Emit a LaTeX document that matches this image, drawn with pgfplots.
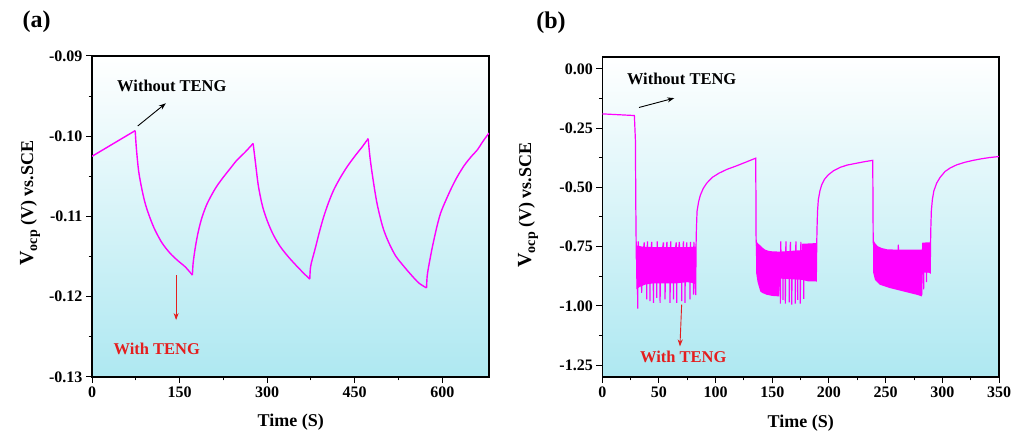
\documentclass[border=0pt]{standalone}
\usepackage{fontspec}
\setmainfont{Liberation Serif}
\usepackage{pgfplots}
\pgfplotsset{compat=1.18}
\usetikzlibrary{arrows.meta}
\definecolor{mag}{RGB}{255,0,255}
\definecolor{bgc}{RGB}{174,232,241}
\definecolor{bgm}{RGB}{226,247,250}
\definecolor{annred}{RGB}{228,30,30}
\pgfplotsset{myax/.style={
  scale only axis, anchor=south west, no marks,
  axis line style={line width=1.1pt},
  tick style={line width=1pt, black},
  tick align=outside, major tick length=6pt, minor tick length=3.5pt,
  minor x tick num=1, minor y tick num=1,
  xtick pos=bottom, ytick pos=left,
  ticklabel style={font=\fontsize{16}{16}\selectfont\bfseries},
  axis background/.style={shade, top color=white, middle color=bgm, bottom color=bgc},
}}
\tikzset{curve/.style={mag, line width=1.4pt, line join=round, smooth, tension=0.5}}
\newcommand{\ylab}{{\fontsize{20}{20}\selectfont V}\raisebox{-4pt}{\fontsize{14}{14}\selectfont ocp}\fontsize{18}{18}\selectfont\ (V) vs.SCE}
\begin{document}
\begin{tikzpicture}
\useasboundingbox (0pt,0pt) rectangle (1017pt,443pt);
% ---------------- panel (a)
\begin{axis}[myax, at={(92pt,66pt)}, width=397pt, height=321pt,
  xmin=0, xmax=680, ymin=-0.13, ymax=-0.09,
  xtick={0,150,300,450,600}, xticklabels={0,150,300,450,600},
  ytick={-0.13,-0.12,-0.11,-0.10,-0.09},
  yticklabels={-0.13,-0.12,-0.11,-0.10,-0.09}]
\addplot[mag, line width=1.4pt] coordinates {(0,-0.1025) (74,-0.0993)};
\addplot[curve] coordinates {(74,-0.0993) (76,-0.1015) (80,-0.1044) (86,-0.1068) (92,-0.1086) (100,-0.1103) (108,-0.1117) (120,-0.1133) (134,-0.1146) (147,-0.1155) (160,-0.1163) (172,-0.1173)};
\addplot[curve] coordinates {(172,-0.1173) (173,-0.1160) (175,-0.1148) (178,-0.1134) (182,-0.1119) (188,-0.1102) (196,-0.1086) (205,-0.1073) (214,-0.1062) (225,-0.1051) (237,-0.1040) (248,-0.1030) (262,-0.1020) (276,-0.1009)};
\addplot[curve] coordinates {(276,-0.1009) (280,-0.1033) (285,-0.1062) (292,-0.1087) (300,-0.1105) (310,-0.1122) (322,-0.1137) (336,-0.1150) (351,-0.1162) (363,-0.1171) (373,-0.1178)};
\addplot[curve] coordinates {(373,-0.1178) (374,-0.1165) (376,-0.1157) (379,-0.1149) (383,-0.1138) (390,-0.1118) (397,-0.1100) (405,-0.1083) (414,-0.1067) (425,-0.1052) (437,-0.1038) (450,-0.1025) (462,-0.1014) (473,-0.1003)};
\addplot[curve] coordinates {(473,-0.1003) (476,-0.1025) (480,-0.1047) (488,-0.1083) (498,-0.1113) (508,-0.1132) (520,-0.1149) (534,-0.1162) (547,-0.1173) (560,-0.1183) (573,-0.1189)};
\addplot[curve] coordinates {(573,-0.1189) (574,-0.1175) (576,-0.1165) (579,-0.1153) (583,-0.1138) (590,-0.1115) (597,-0.1096) (606,-0.1080) (616,-0.1064) (626,-0.1050) (638,-0.1036) (650,-0.1025) (660,-0.1017) (670,-0.1006) (680,-0.0996)};
\node[font=\fontsize{16.5}{16.5}\selectfont\bfseries] at (axis cs:136.8,-0.0937) {Without TENG};
\draw[-{Stealth[length=7pt,width=5pt]}, line width=0.9pt, black] (axis cs:78.4,-0.09872) -- (axis cs:126.5,-0.09589);
\node[font=\fontsize{16.5}{16.5}\selectfont\bfseries, text=annred] at (axis cs:111,-0.1265) {With TENG};
\draw[-{Stealth[length=7pt,width=5pt]}, line width=0.9pt, annred] (axis cs:144.1,-0.1173) -- (axis cs:144.1,-0.1229);
\end{axis}
% ---------------- panel (b)
\begin{axis}[myax, at={(602.3pt,66pt)}, width=396.7pt, height=320pt,
  xmin=0, xmax=350, ymin=-1.30, ymax=0.05,
  xtick={0,50,100,150,200,250,300,350}, xticklabels={0,50,100,150,200,250,300,350},
  ytick={-1.25,-1,-0.75,-0.5,-0.25,0},
  yticklabels={-1.25,-1.00,-0.75,-0.50,-0.25,0.00}]
% dense bands
\addplot[draw=none, fill=mag] coordinates {
(29.8,-0.76) (31,-0.745) (35,-0.75) (45,-0.752) (55,-0.752) (65,-0.752) (75,-0.752) (82.6,-0.75)
(82.6,-0.905) (75,-0.90) (65,-0.905) (55,-0.905) (45,-0.905) (38,-0.91) (33,-0.92) (30,-0.93)
};
\addplot[draw=none, fill=mag] coordinates {
(135.5,-0.72) (137,-0.735) (139.4,-0.745) (141.5,-0.755) (143.8,-0.763) (147,-0.768) (150,-0.770) (157,-0.771) (166,-0.768) (176,-0.765) (176.3,-0.738) (189.2,-0.735)
(189.2,-0.897) (182,-0.897) (176,-0.89) (157,-0.885) (156,-0.96) (150,-0.958) (145,-0.953) (141,-0.945) (139.4,-0.939) (137,-0.90) (135.7,-0.86)
};
\addplot[draw=none, fill=mag] coordinates {
(239,-0.72) (240.6,-0.735) (243,-0.748) (246.5,-0.756) (252,-0.762) (282,-0.763) (282.3,-0.733) (289.5,-0.732)
(289.5,-0.86) (282.5,-0.86) (282,-0.96) (277.4,-0.953) (265.6,-0.939) (253.8,-0.925) (245,-0.911) (240.6,-0.89) (239,-0.86)
};
\addplot[mag, line width=1.2pt] coordinates {
(0,-0.190) (28.3,-0.197) (29.2,-0.30) (29.6,-0.60) (30.0,-0.80)
(31.0,-0.82) (31.2,-1.012) (31.4,-0.82) (31.8,-0.728) (32.0,-0.82) (34.5,-0.83) (34.7,-0.945) (34.9,-0.83) (37.0,-0.732) (37.2,-0.83)
(39.0,-0.83) (39.2,-0.973) (39.4,-0.83) (39.8,-0.728) (40.0,-0.83) (41.9,-0.83) (42.1,-0.98) (42.3,-0.83) (43.6,-0.73) (43.8,-0.83)
(44.9,-0.83) (45.1,-0.987) (45.3,-0.83) (47.8,-0.83) (48.0,-0.966) (48.2,-0.83) (48.5,-0.728) (48.7,-0.83) (50.8,-0.83) (51.0,-0.987) (51.2,-0.83)
(53.9,-0.732) (54.1,-0.83) (55.2,-0.83) (55.4,-0.973) (55.6,-0.83) (57.0,-0.73) (57.2,-0.83) (59.6,-0.83) (59.8,-0.987) (60.0,-0.83)
(60.3,-0.728) (60.5,-0.83) (62.6,-0.83) (62.8,-0.973) (63.0,-0.83) (65.2,-0.732) (65.4,-0.83) (65.5,-0.83) (65.7,-0.987) (65.9,-0.83)
(68.0,-0.73) (68.2,-0.83) (69.9,-0.83) (70.1,-0.98) (70.3,-0.83) (71.6,-0.728) (71.8,-0.83) (72.8,-0.83) (73.0,-0.987) (73.2,-0.83)
(74.5,-0.732) (74.7,-0.83) (77.2,-0.83) (77.4,-0.973) (77.6,-0.83) (77.9,-0.73) (78.1,-0.83) (80.2,-0.83) (80.4,-0.953) (80.6,-0.83)
(80.8,-0.73) (81.0,-0.83) (82.4,-0.955) (82.7,-0.75)
(83.0,-0.68) (83.6,-0.60) (85,-0.56) (86.5,-0.533) (89,-0.505) (92,-0.483) (97,-0.458) (103,-0.440) (110,-0.424) (118,-0.410) (127,-0.393) (135.3,-0.377)
(135.5,-0.50) (135.7,-0.72)
(137,-0.80) (150,-0.85) (157.0,-0.83) (157.1,-0.99) (157.3,-0.83) (157.5,-0.728) (157.7,-0.83) (159.3,-0.83) (159.4,-0.975) (159.6,-0.83)
(161.4,-0.83) (161.5,-0.99) (161.7,-0.83) (162.0,-0.728) (162.2,-0.83) (164.9,-0.83) (165.0,-0.985) (165.2,-0.83) (166.0,-0.73) (166.2,-0.83)
(167.1,-0.83) (167.2,-0.995) (167.4,-0.83) (170.2,-0.83) (170.3,-0.99) (170.5,-0.83) (170.8,-0.728) (171.0,-0.83) (172.3,-0.83) (172.4,-0.975) (172.6,-0.83)
(174.6,-0.83) (174.7,-0.99) (174.9,-0.83) (175.2,-0.73) (175.4,-0.83) (177.6,-0.83) (177.7,-0.97) (177.9,-0.83) (184,-0.85) (188.8,-0.89)
(189.2,-0.74) (189.4,-0.68) (189.9,-0.60) (190.6,-0.552) (192,-0.515) (193.6,-0.489) (196,-0.466) (199.4,-0.447) (204,-0.430) (209.7,-0.416) (216,-0.406) (224.5,-0.398) (231,-0.392) (238.6,-0.386)
(238.8,-0.55) (239.0,-0.73)
(241,-0.80) (261.0,-0.80) (261.2,-0.742) (261.4,-0.80) (281.6,-0.85) (281.8,-0.955) (282.0,-0.85) (283.4,-0.85) (283.5,-0.93) (283.7,-0.85) (285.9,-0.85) (286.0,-0.90) (286.2,-0.85) (289.3,-0.86)
(289.6,-0.74) (289.8,-0.68) (290.3,-0.60) (291.2,-0.552) (292.5,-0.515) (295,-0.482) (298,-0.458) (302.4,-0.433) (307,-0.418) (312.7,-0.405) (320,-0.394) (327.3,-0.386) (335,-0.379) (342,-0.374) (350,-0.370)
};
\node[font=\fontsize{16.5}{16.5}\selectfont\bfseries] at (axis cs:70.0,-0.042) {Without TENG};
\draw[-{Stealth[length=7pt,width=5pt]}, line width=0.9pt, black] (axis cs:32.4,-0.163) -- (axis cs:63.5,-0.1235);
\node[font=\fontsize{16.5}{16.5}\selectfont\bfseries, text=annred] at (axis cs:71.4,-1.215) {With TENG};
\draw[-{Stealth[length=7pt,width=5pt]}, line width=0.9pt, annred] (axis cs:70.0,-0.995) -- (axis cs:68.5,-1.171);
\end{axis}
% ---------------- labels
\node[font=\fontsize{18}{18}\selectfont\bfseries] at (290.8pt,21pt) {Time (S)};
\node[font=\fontsize{18}{18}\selectfont\bfseries] at (800.8pt,20pt) {Time (S)};
\node[font=\bfseries, rotate=90] at (30pt,240pt) {\ylab};
\node[font=\bfseries, rotate=90] at (528pt,238pt) {\ylab};
\node[font=\fontsize{24}{24}\selectfont\bfseries] at (36.7pt,421pt) {(a)};
\node[font=\fontsize{24}{24}\selectfont\bfseries] at (551pt,420pt) {(b)};
\end{tikzpicture}
\end{document}
